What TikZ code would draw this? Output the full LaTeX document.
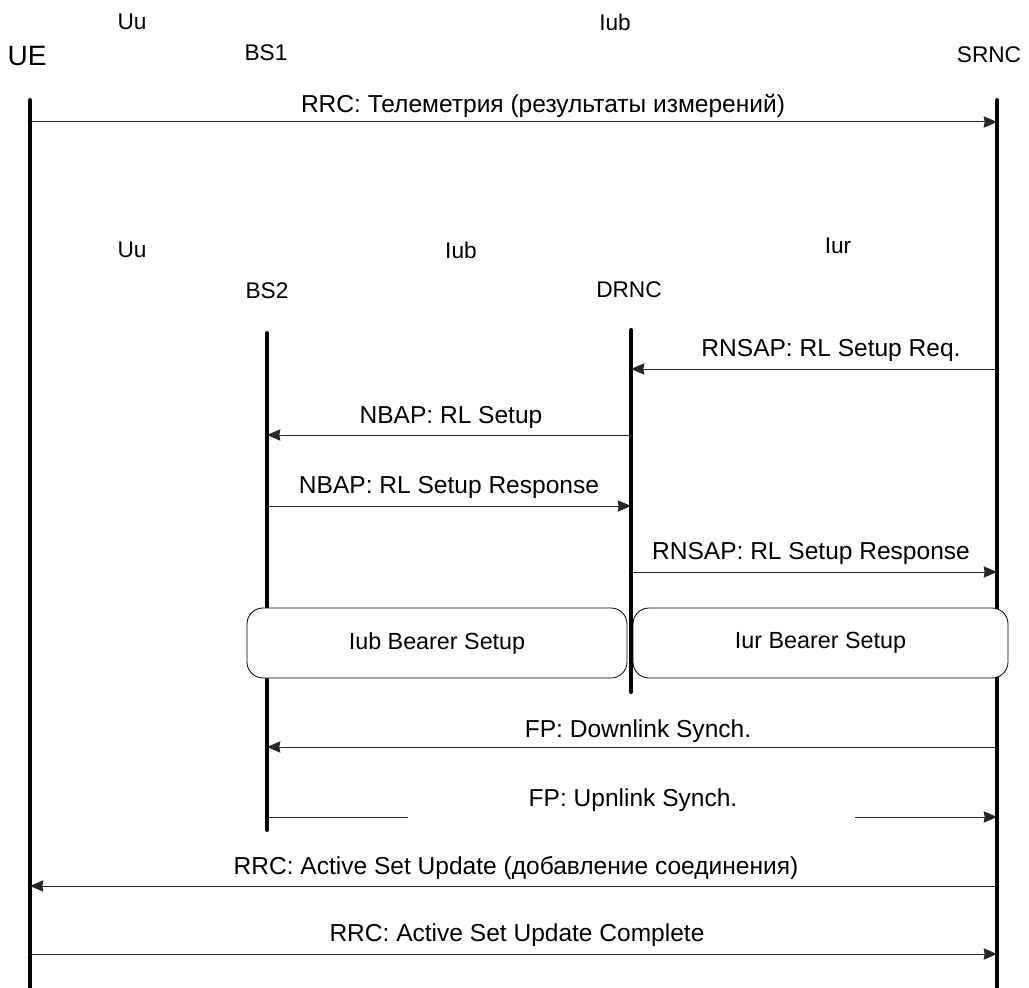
\documentclass[tikz,border=0pt]{standalone}
\usepackage{fontspec}
\setmainfont{Liberation Sans}
\usetikzlibrary{arrows.meta}
\tikzset{
  life/.style={line width=3pt, line cap=round},
  msg/.style={line width=0.75pt, draw=black!85, -{Stealth[length=10pt,width=8.5pt,inset=0.8pt]}},
  lbl/.style={font=\fontsize{18.4}{20}\selectfont, inner sep=0pt},
  hdr/.style={font=\fontsize{17}{19}\selectfont, inner sep=0pt},
  bearer/.style={draw, rounded corners=12pt, fill=white, line width=0.6pt, font=\fontsize{17.5}{19}\selectfont}
}
\begin{document}
\begin{tikzpicture}[x=0.75pt,y=-0.75pt]
\useasboundingbox (0,0) rectangle (1029,988);
% headers
\node[hdr] (uu1) at (132,22) {Uu};
\node[hdr, font=\fontsize{21}{23}\selectfont] (ue) at (27,56) {UE};
\node[hdr] (bs1) at (266,53) {BS1};
\node[hdr] (iub1) at (615,22) {Iub};
\node[hdr] (srnc) at (989,55) {SRNC};
\node[hdr] (uu2) at (132,250) {Uu};
\node[hdr] (iub2) at (461,250) {Iub};
\node[hdr] (iur) at (838,246) {Iur};
\node[hdr] (bs2) at (267,291) {BS2};
\node[hdr] (drnc) at (629,290) {DRNC};
% lifelines
\coordinate (ueT) at (30,100); \coordinate (ueB) at (30,990);
\coordinate (srT) at (997,100); \coordinate (srB) at (997,990);
\coordinate (bsT) at (267,333); \coordinate (bsB) at (267,830);
\coordinate (drT) at (631,330); \coordinate (drB) at (631,692);
\draw[life] (ueT) -- (ueB);
\draw[life] (srT) -- (srB);
\draw[life] (bsT) -- (bsB);
\draw[life] (drT) -- (drB);
% bearer boxes
\node[bearer, minimum width=380*0.75pt, minimum height=70*0.75pt] (iubb) at (437,643) {Iub Bearer Setup};
\node[bearer, minimum width=375*0.75pt, minimum height=70*0.75pt] (iurb) at (820.5,643) {Iur Bearer Setup};
% messages
\draw[msg] (ueT |- 0,122) -- (srT |- 0,122);
\node[lbl] (m1) at (543,106) {RRC: Телеметрия (результаты измерений)};
\draw[msg] (srT |- 0,369) -- (drT |- 0,369);
\node[lbl] (m2) at (831,350) {RNSAP: RL Setup Req.};
\draw[msg] (drT |- 0,435) -- (bsT |- 0,435);
\node[lbl] (m3) at (451,417) {NBAP: RL Setup};
\draw[msg] (bsT |- 0,506) -- (drT |- 0,506);
\node[lbl] (m4) at (449,487) {NBAP: RL Setup Response};
\draw[msg] (drT |- 0,572) -- (srT |- 0,572);
\node[lbl] (m5) at (811,553) {RNSAP: RL Setup Response};
\draw[msg] (srT |- 0,747) -- (bsT |- 0,747);
\node[lbl] (m6) at (638,731) {FP: Downlink Synch.};
\coordinate (g1) at (408,817); \coordinate (g2) at (855,817);
\draw[msg, -] (bsT |- 0,817) -- (g1);
\draw[msg] (g2) -- (srT |- 0,817);
\node[lbl] (m7) at (633,800) {FP: Upnlink Synch.};
\draw[msg] (srT |- 0,886) -- (ueT |- 0,886);
\node[lbl] (m8) at (516,868) {RRC: Active Set Update (добавление соединения)};
\draw[msg] (ueT |- 0,954) -- (srT |- 0,954);
\node[lbl] (m9) at (517,935) {RRC: Active Set Update Complete};
\end{tikzpicture}
\end{document}
